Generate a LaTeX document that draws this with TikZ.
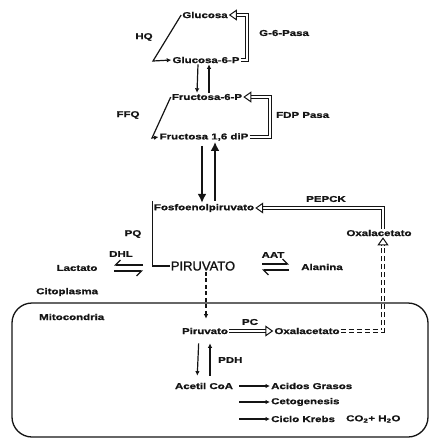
\documentclass[tikz,border=0pt]{standalone}
\usepackage{fontspec}
\setmainfont{Liberation Sans}
\newfontfamily\labfont{Liberation Sans}[FakeStretch=1.35,FakeBold=1.2]
\newfontfamily\pirufont{Liberation Sans}[FakeBold=1.2]
\usetikzlibrary{arrows.meta,positioning,calc}
\definecolor{ink}{RGB}{20,20,20}
\tikzset{
  note/.style={font=\labfont\bfseries\fontsize{8.5}{9}\selectfont,text=ink,inner sep=1pt},
  bignote/.style={font=\pirufont\fontsize{13}{14}\selectfont,text=ink,inner sep=1pt},
  conn/.style={line width=1.2pt,draw=ink},
  arrow/.style={conn,-{Latex[length=4.5pt,width=4.5pt]}},
  bigarrow/.style={line width=2.4pt,draw=ink,-{Latex[length=9pt,width=9pt]}},
  hollow/.style={draw=ink,line width=1pt,double=white,double distance=2pt,-{Triangle[open,length=8pt,width=11pt]}},
  hollowdash/.style={hollow,dash pattern=on 5pt off 3pt},
  harpoonR/.style={conn,-{Straight Barb[right,length=5pt]}},
  harpoonL/.style={conn,-{Straight Barb[left,length=5pt]}}
}

\begin{document}
\begin{tikzpicture}[x=1pt,y=-1pt]
  \useasboundingbox (0,0) rectangle (430,440);

  % glucolisis / gluconeogenesis
  \node[note] (glu) at (205,15) {Glucosa};
  \node[note] (g6p) at (206,60) {Glucosa-6-P};
  \node[note] (hq) at (144,37) {HQ};
  \node[note,anchor=west] (g6pase) at (258,33) {G-6-Pasa};
  \node[note] (f6p) at (207,97) {Fructosa-6-P};
  \node[note] (f16) at (204,137) {Fructosa 1,6 diP};
  \node[note] (ffq) at (128,115) {FFQ};
  \node[note,anchor=west] (fdpase) at (275,115) {FDP Pasa};
  \node[note] (pep) at (204,208) {Fosfoenolpiruvato};
  \node[note] (pepck) at (326,199) {PEPCK};
  \node[note] (oxc) at (379,233) {Oxalacetato};
  \node[note] (pq) at (133,234) {PQ};
  \node[bignote] (piru) at (203,266) {PIRUVATO};
  \node[note] (lac) at (77,268) {Lactato};
  \node[note] (dhl) at (121,254) {DHL};
  \node[note] (aat) at (273,255) {AAT};
  \node[note] (ala) at (322,267) {Alanina};
  \node[note,anchor=west] (cito) at (35,292) {Citoplasma};

  % mitocondria
  \draw[line width=1.3pt,draw=ink,rounded corners=20pt] (12,303) rectangle (428,437);
  \node[note,anchor=west] (mito) at (38,317) {Mitocondria};
  \node[note] (pirm) at (205,331) {Piruvato};
  \node[note] (pc) at (250,322) {PC};
  \node[note] (oxm) at (307,331) {Oxalacetato};
  \node[note,anchor=west] (pdh) at (217,360) {PDH};
  \node[note] (acet) at (204,386) {Acetil CoA};
  \node[note,anchor=west] (acid) at (270,386) {Acidos Grasos};
  \node[note,anchor=west] (ceto) at (270,402) {Cetogenesis};
  \node[note,anchor=west] (krebs) at (270,419) {Ciclo Krebs};
  \node[note,anchor=west] (co2) at (345,419) {CO\textsubscript{2}+ H\textsubscript{2}O};

  \coordinate (hqbend) at (153,61);
  \coordinate (ffqbend) at (152,138);
  \coordinate (dhlR) at (143,265);
  \coordinate (dhlL) at (114,265);
  \coordinate (aatL) at (262,264);
  \coordinate (aatR) at (289,264);

  \draw[arrow] (glu.west) -- (hqbend) -- (g6p.west);
  \draw[hollow] (g6p.east) -- ++(6,0) |- (glu.east);
  \draw[arrow] ([xshift=-8pt]g6p.south) -- ([xshift=-10pt]f6p.north);
  \draw[arrow] ([xshift=2pt]f6p.north) -- ([xshift=3pt]g6p.south);
  \draw[arrow] (f6p.west) -- (ffqbend) -- (f16.west);
  \draw[hollow] (f16.east) -- ++(20,0) |- (f6p.east);
  \draw[bigarrow,shorten <=4pt] ([xshift=-2pt]f16.south) -- ([xshift=-2pt]pep.north);
  \draw[bigarrow,shorten <=2pt] ([xshift=11pt]pep.north) -- ([xshift=11pt]f16.south);
  \draw[hollow] ([xshift=4pt]oxc.north) |- (pep.east);
  \draw[conn] ([yshift=2pt]pep.north west) -- (pep.north west |- piru.west) -- (piru.west);
  \draw[harpoonR] (dhlR) -- (dhlL);
  \draw[harpoonR] ([yshift=-6pt]dhlL) -- ([yshift=-6pt]dhlR);
  \draw[harpoonL] (aatL) -- (aatR);
  \draw[harpoonL] ([yshift=-6pt]aatR) -- ([yshift=-6pt]aatL);
  \draw[arrow,dash pattern=on 4pt off 2.5pt,shorten >=8pt] ([xshift=3pt]piru.south) -- ([xshift=3pt]piru.south |- pirm.north);
  \draw[hollow] (pirm.east) -- (oxm.west);
  \draw[hollowdash] (oxm.east) -| ([xshift=4pt]oxc.south);
  \draw[arrow,shorten <=8pt,shorten >=6pt] ([xshift=-6pt]pirm.south) -- ([xshift=-7pt]acet.north);
  \draw[arrow,shorten <=6pt,shorten >=8pt] ([xshift=6pt]acet.north) -- ([xshift=5pt]pirm.south);
  \draw[arrow,shorten <=5pt] (acet.east) -- (acid.west);
  \draw[arrow,shorten <=5pt] (acet.east |- ceto.west) -- (ceto.west);
  \draw[arrow,shorten <=5pt] (acet.east |- krebs.west) -- (krebs.west);
\end{tikzpicture}
\end{document}
